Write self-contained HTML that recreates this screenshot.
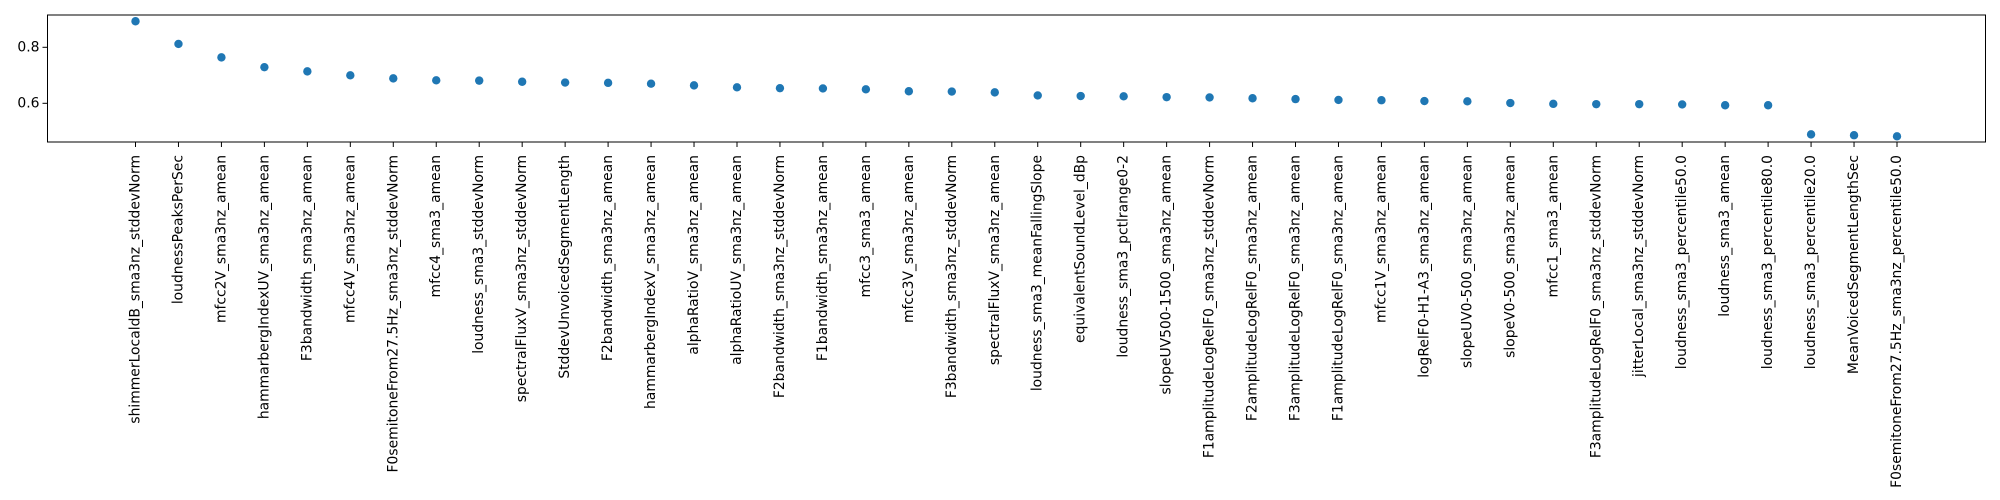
<!DOCTYPE html>
<html><head><meta charset="utf-8"><style>
html,body{margin:0;padding:0;background:#fff;}
svg{display:block;font-family:"DejaVu Sans","Liberation Sans",sans-serif;}
</style></head><body>
<svg id="chart" width="2000" height="500" viewBox="0 0 2000 500"></svg>
<script>
const categories=["shimmerLocaldB_sma3nz_stddevNorm","loudnessPeaksPerSec","mfcc2V_sma3nz_amean","hammarbergIndexUV_sma3nz_amean","F3bandwidth_sma3nz_amean","mfcc4V_sma3nz_amean","F0semitoneFrom27.5Hz_sma3nz_stddevNorm","mfcc4_sma3_amean","loudness_sma3_stddevNorm","spectralFluxV_sma3nz_stddevNorm","StddevUnvoicedSegmentLength","F2bandwidth_sma3nz_amean","hammarbergIndexV_sma3nz_amean","alphaRatioV_sma3nz_amean","alphaRatioUV_sma3nz_amean","F2bandwidth_sma3nz_stddevNorm","F1bandwidth_sma3nz_amean","mfcc3_sma3_amean","mfcc3V_sma3nz_amean","F3bandwidth_sma3nz_stddevNorm","spectralFluxV_sma3nz_amean","loudness_sma3_meanFallingSlope","equivalentSoundLevel_dBp","loudness_sma3_pctlrange0-2","slopeUV500-1500_sma3nz_amean","F1amplitudeLogRelF0_sma3nz_stddevNorm","F2amplitudeLogRelF0_sma3nz_amean","F3amplitudeLogRelF0_sma3nz_amean","F1amplitudeLogRelF0_sma3nz_amean","mfcc1V_sma3nz_amean","logRelF0-H1-A3_sma3nz_amean","slopeUV0-500_sma3nz_amean","slopeV0-500_sma3nz_amean","mfcc1_sma3_amean","F3amplitudeLogRelF0_sma3nz_stddevNorm","jitterLocal_sma3nz_stddevNorm","loudness_sma3_percentile50.0","loudness_sma3_amean","loudness_sma3_percentile80.0","loudness_sma3_percentile20.0","MeanVoicedSegmentLengthSec","F0semitoneFrom27.5Hz_sma3nz_percentile50.0"];
const values=[0.893,0.812,0.764,0.729,0.714,0.700,0.689,0.682,0.681,0.677,0.674,0.673,0.670,0.664,0.657,0.654,0.653,0.650,0.643,0.642,0.639,0.628,0.626,0.625,0.622,0.621,0.618,0.615,0.612,0.611,0.608,0.607,0.601,0.598,0.597,0.597,0.596,0.593,0.593,0.489,0.486,0.482];
const yTicks=[0.6,0.8];
const yTickLabels=["0.6","0.8"];

const NS="http://www.w3.org/2000/svg";
const svg=document.getElementById('chart');
const L=47.5,R=1985.5,T=15,B=142;
const x0=135.5,dx=(1897-135.5)/41;
function xs(i){return x0+i*dx;}
function ys(v){return 47.3+(0.8-v)*280;}
function mk(tag,attrs){const e=document.createElementNS(NS,tag);for(const k in attrs)e.setAttribute(k,attrs[k]);svg.appendChild(e);return e;}

const frame=mk('rect',{x:L,y:T,width:R-L,height:B-T,fill:'none',stroke:'#000','stroke-width':1});



yTicks.forEach((v,i)=>{
  const t=mk('line',{x1:L-5,x2:L,y1:ys(v),y2:ys(v),stroke:'#000','stroke-width':1});
  
  
  const lb=mk('text',{x:L-8,y:ys(v),'text-anchor':'end','dominant-baseline':'central','font-size':'13.9px',fill:'#000'});
  lb.textContent=yTickLabels[i];
  
  
});

categories.forEach((c,i)=>{
  const x=xs(i);
  const t=mk('line',{x1:x,x2:x,y1:B,y2:B+5,stroke:'#000','stroke-width':1});
  
  
  const lb=mk('text',{x:0,y:0,transform:`translate(${x},155) rotate(-90)`,'text-anchor':'end','dominant-baseline':'central','font-size':'13.9px',fill:'#000'});
  lb.textContent=c;
  
  
});

values.forEach((v,i)=>{
  const p=mk('circle',{cx:xs(i),cy:ys(v),r:4.2,fill:'#1f77b4'});
  
  
});
</script>
</body></html>
